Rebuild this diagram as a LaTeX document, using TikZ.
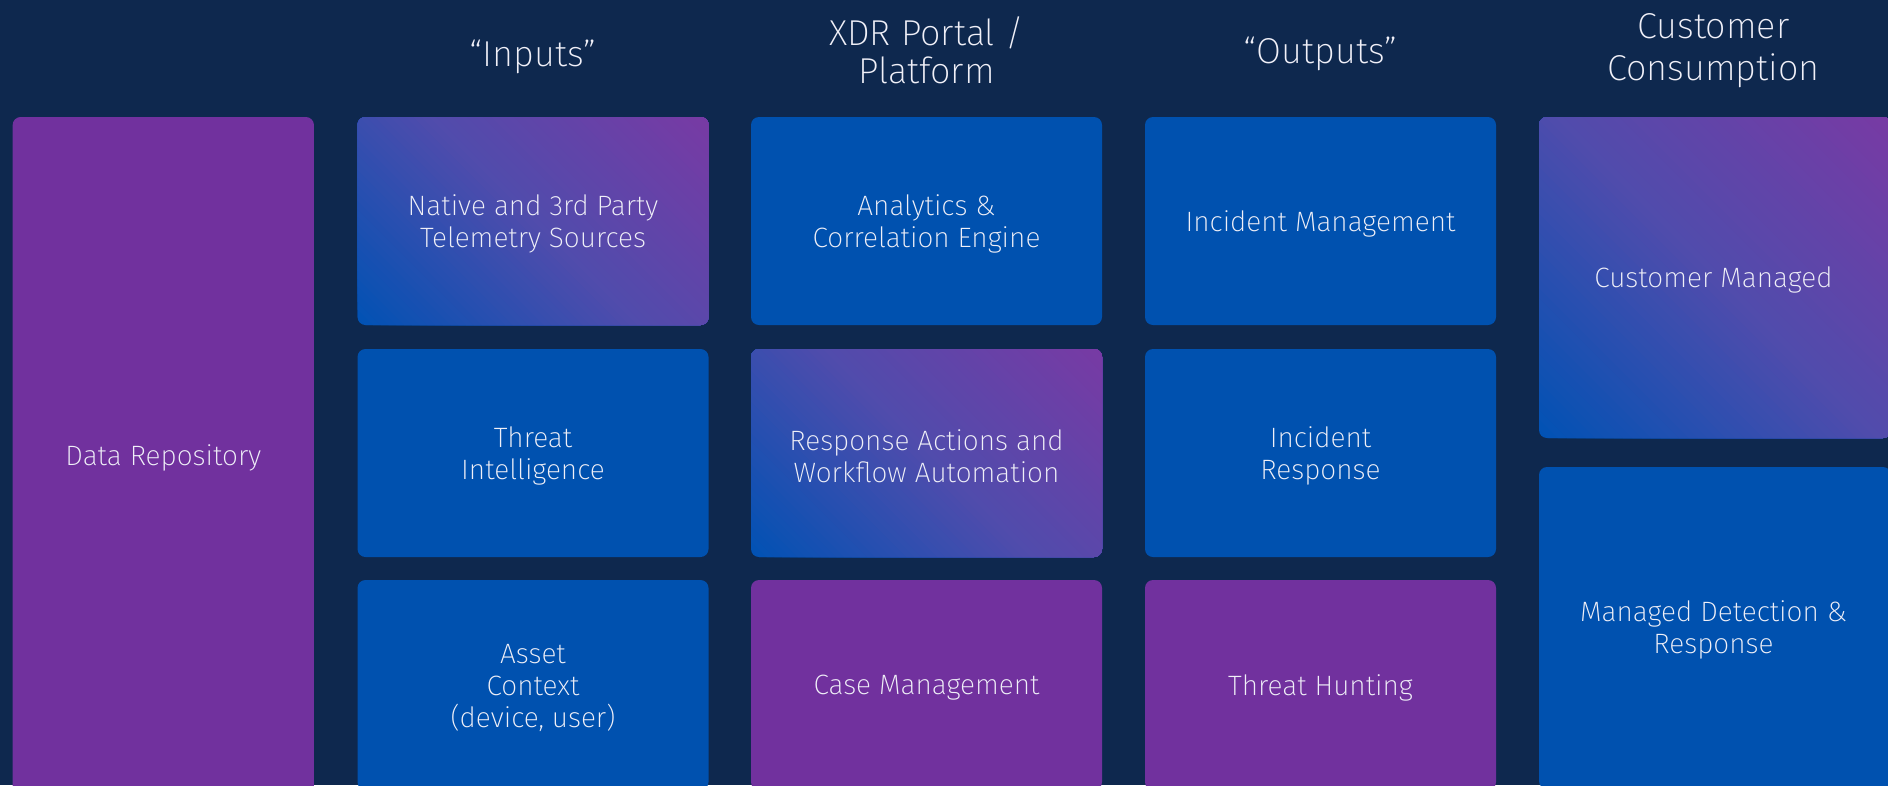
\documentclass[tikz,border=0pt]{standalone}
\usepackage{fontspec}
\setmainfont{Fira Sans ExtraLight}
\definecolor{bgnavy}{RGB}{14,40,78}
\definecolor{cblue}{RGB}{0,81,175}
\definecolor{cpurple}{RGB}{113,49,158}
\definecolor{gblue}{RGB}{0,82,180}
\definecolor{gmid}{RGB}{80,76,172}
\definecolor{gpurple}{RGB}{120,58,164}
\definecolor{txt}{RGB}{240,240,248}
\tikzset{
  blk/.style={rounded corners=8pt, inner sep=0pt, minimum width=351pt, minimum height=208pt},
  blu/.style={blk, fill=cblue},
  pur/.style={blk, fill=cpurple},
  grd/.style={blk},
  btxt/.style={text=txt, align=center, inner sep=0pt, font=\fontsize{28}{32}\selectfont},
  hdr/.style={text=txt, align=center, inner sep=0pt, font=\fontsize{36}{40}\selectfont}
}
\newcommand\mybox[7]{%
  \node[#1, minimum width=#5pt, minimum height=#6pt] (#2) at (#3,#4) {};
  \node[btxt] (#2-t) at (#3,#4+3) {#7};
}
% diagonal gradient: blue at bottom-left, purple at top-right
\newcommand\gradfill[4]{% cx cy w h
  \begin{scope}
    \clip[rounded corners=8pt] ({#1-#3/2},{#2-#4/2}) rectangle ({#1+#3/2},{#2+#4/2});
    \pgfmathsetmacro\gxl{#1-#3/2}
    \pgfmathsetmacro\gyb{#2+#4/2}
    \pgfmathsetmacro\gM{#3+#4}
    \pgfmathsetmacro\gstep{(#3+#4)/72}
    \foreach \k in {0,...,71}{%
      \pgfmathsetmacro\gt{(\k+0.5)/72}
      \pgfmathsetmacro\gs{\gstep*\k}
      \ifdim\gt pt<0.5pt
        \pgfmathsetmacro\gp{\gt*200}
        \colorlet{gcur}{gmid!\gp!gblue}
      \else
        \pgfmathsetmacro\gp{(\gt-0.5)*200}
        \colorlet{gcur}{gpurple!\gp!gmid}
      \fi
      \fill[gcur] ({\gxl+\gs+\gM},{\gyb+\gM}) -- ({\gxl+\gs-\gM},{\gyb-\gM})
        -- ({\gxl+\gs+2*\gM},{\gyb-\gM}) -- ({\gxl+\gs+2*\gM},{\gyb+\gM}) -- cycle;
    }
  \end{scope}
}
\begin{document}
\begin{tikzpicture}[x=1pt,y=-1pt]
\useasboundingbox (0,0) rectangle (1888,785);
\fill[bgnavy] (0,0) rectangle (1888,785);
\clip (0,0) rectangle (1888,785);
% headers
\node[hdr] (hin) at (533,56.5) {“Inputs”};
\node[hdr, font=\fontsize{36}{38.5}\selectfont] (hxdr) at (926.5,50.5) {XDR Portal /\\Platform};
\node[hdr] (hout) at (1320.5,53.5) {“Outputs”};
\node[hdr, font=\fontsize{36}{42}\selectfont] (hcc) at (1713.5,51) {Customer\\Consumption};
% gradient fills
\gradfill{533}{221}{351}{208}
\gradfill{926.5}{453}{351}{208}
\gradfill{1715}{277.5}{352}{321}
% column 1
\mybox{pur}{repo}{163.3}{455}{301.3}{676}{Data Repository}
% column 2
\mybox{grd}{tel}{533}{221}{351}{208}{Native and 3rd Party\\Telemetry Sources}
\mybox{blu}{ti}{533}{453}{351}{208}{Threat\\Intelligence}
\mybox{blu}{asset}{533}{685}{351}{210}{Asset\\Context\\(device, user)}
% column 3
\mybox{blu}{ana}{926.5}{221}{351}{208}{Analytics \&\\Correlation Engine}
\mybox{grd}{resp}{926.5}{453}{351}{208}{Response Actions and\\Workflow Automation}
\mybox{pur}{case}{926.5}{685}{351}{210}{Case Management}
% column 4
\mybox{blu}{im}{1320.5}{221}{351}{208}{Incident Management}
\mybox{blu}{ir}{1320.5}{453}{351}{208}{Incident\\Response}
\mybox{pur}{th}{1320.5}{685}{351}{210}{Threat Hunting}
% column 5
\node[grd, minimum width=352pt, minimum height=321pt] (cm) at (1715,277.5) {};
\node[btxt] (cm-t) at (1713.5,280) {Customer Managed};
\node[blu, minimum width=352pt, minimum height=322pt] (mdr) at (1715,628) {};
\node[btxt] (mdr-t) at (1713.5,630) {Managed Detection \&\\Response};
\end{tikzpicture}
\end{document}
